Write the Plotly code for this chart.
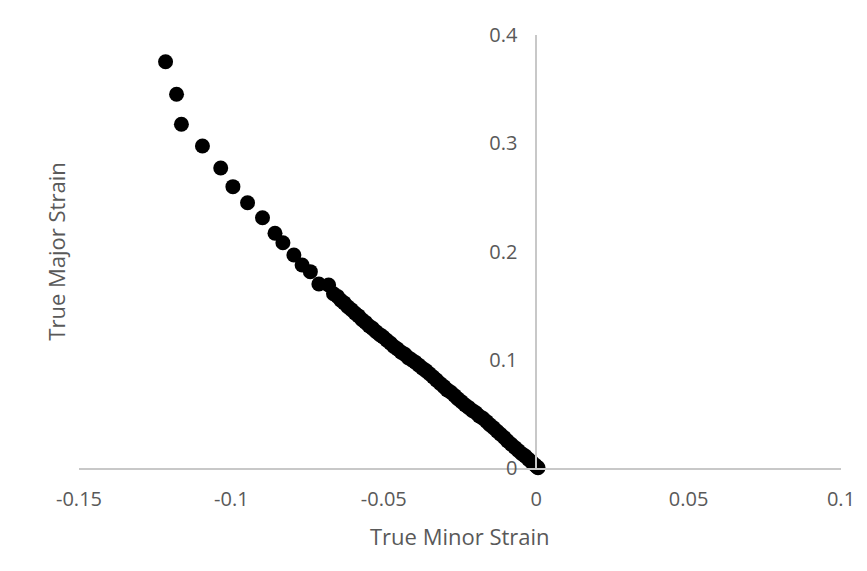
import plotly.graph_objects as go

# True minor / major strain pairs along the forming path
minor_strain = [
    -0.1216, -0.1180, -0.1164, -0.1095, -0.1035, -0.0995, -0.0947, -0.0898,
    -0.0857, -0.0831, -0.0795, -0.0768, -0.0741, -0.0713, -0.0681,
    -0.0665, -0.0652, -0.0641, -0.0630, -0.0618, -0.0606, -0.0594, -0.0583,
    -0.0571, -0.0560, -0.0548, -0.0537, -0.0525, -0.0513, -0.0502, -0.0490,
    -0.0478, -0.0467, -0.0455, -0.0443, -0.0431, -0.0420, -0.0409, -0.0397,
    -0.0385, -0.0373, -0.0362, -0.0350, -0.0338, -0.0327, -0.0315, -0.0303,
    -0.0292, -0.0280, -0.0268, -0.0257, -0.0245, -0.0233, -0.0222, -0.0210,
    -0.0198, -0.0187, -0.0175, -0.0163, -0.0152, -0.0140, -0.0128, -0.0117,
    -0.0105, -0.0094, -0.0082, -0.0070, -0.0059, -0.0047, -0.0036, -0.0025,
    -0.0014, -0.0005, 0.0002, 0.0006,
]
major_strain = [
    0.3753, 0.3452, 0.3175, 0.2975, 0.2771, 0.2599, 0.2451, 0.2312,
    0.2168, 0.2081, 0.1968, 0.1875, 0.1814, 0.1700, 0.1690,
    0.1610, 0.1585, 0.1550, 0.1525, 0.1490, 0.1462, 0.1430, 0.1405,
    0.1370, 0.1345, 0.1312, 0.1290, 0.1258, 0.1232, 0.1210, 0.1180,
    0.1152, 0.1122, 0.1100, 0.1070, 0.1050, 0.1020, 0.1000, 0.0978,
    0.0950, 0.0922, 0.0900, 0.0870, 0.0840, 0.0812, 0.0780, 0.0752,
    0.0722, 0.0700, 0.0670, 0.0640, 0.0612, 0.0582, 0.0560, 0.0532,
    0.0510, 0.0480, 0.0460, 0.0430, 0.0400, 0.0372, 0.0340, 0.0312,
    0.0282, 0.0250, 0.0220, 0.0190, 0.0162, 0.0132, 0.0110, 0.0080,
    0.0052, 0.0030, 0.0012, 0.0002,
]

x_ticks = [-0.15, -0.1, -0.05, 0, 0.05, 0.1]
x_tick_text = ["-0.15", "-0.1", "-0.05", "0", "0.05", "0.1"]
y_ticks = [0, 0.1, 0.2, 0.3, 0.4]
y_tick_text = ["0", "0.1", "0.2", "0.3", "0.4"]

text_color = "#595959"
axis_color = "#c8c8c8"
font_family = "Open Sans"

fig = go.Figure(
    go.Scatter(
        x=minor_strain,
        y=major_strain,
        mode="markers",
        marker=dict(color="#000000", size=15, line=dict(width=0)),
        cliponaxis=False,
        showlegend=False,
    )
)

fig.update_layout(
    width=867,
    height=571,
    margin=dict(l=79, r=22, t=35, b=103),
    paper_bgcolor="white",
    plot_bgcolor="white",
    font=dict(family=font_family, color=text_color, size=20),
    xaxis=dict(
        range=[-0.15, 0.1],
        tickvals=x_ticks,
        ticktext=x_tick_text,
        showgrid=False,
        zeroline=False,
        showline=True,
        linecolor=axis_color,
        linewidth=1.5,
        ticks="",
        ticklabelstandoff=12,
        tickfont=dict(family=font_family, size=20, color=text_color),
    ),
    yaxis=dict(
        range=[0, 0.4],
        tickvals=y_ticks,
        ticktext=y_tick_text,
        showgrid=False,
        zeroline=False,
        showline=True,
        linecolor=axis_color,
        linewidth=1.5,
        ticks="",
        anchor="free",
        position=0.6,
        ticklabelstandoff=14,
        tickfont=dict(family=font_family, size=20, color=text_color),
    ),
    annotations=[
        dict(
            text="True Minor Strain",
            xref="paper", yref="paper",
            x=0.5, y=-0.157,
            xanchor="center", yanchor="middle",
            showarrow=False,
            font=dict(family=font_family, size=22, color=text_color),
        ),
        dict(
            text="True Major Strain",
            xref="paper", yref="paper",
            x=-0.0313, y=0.5,
            xanchor="center", yanchor="middle",
            textangle=-90,
            showarrow=False,
            font=dict(family=font_family, size=22, color=text_color),
        ),
    ],
)

fig.write_html("out.html")
